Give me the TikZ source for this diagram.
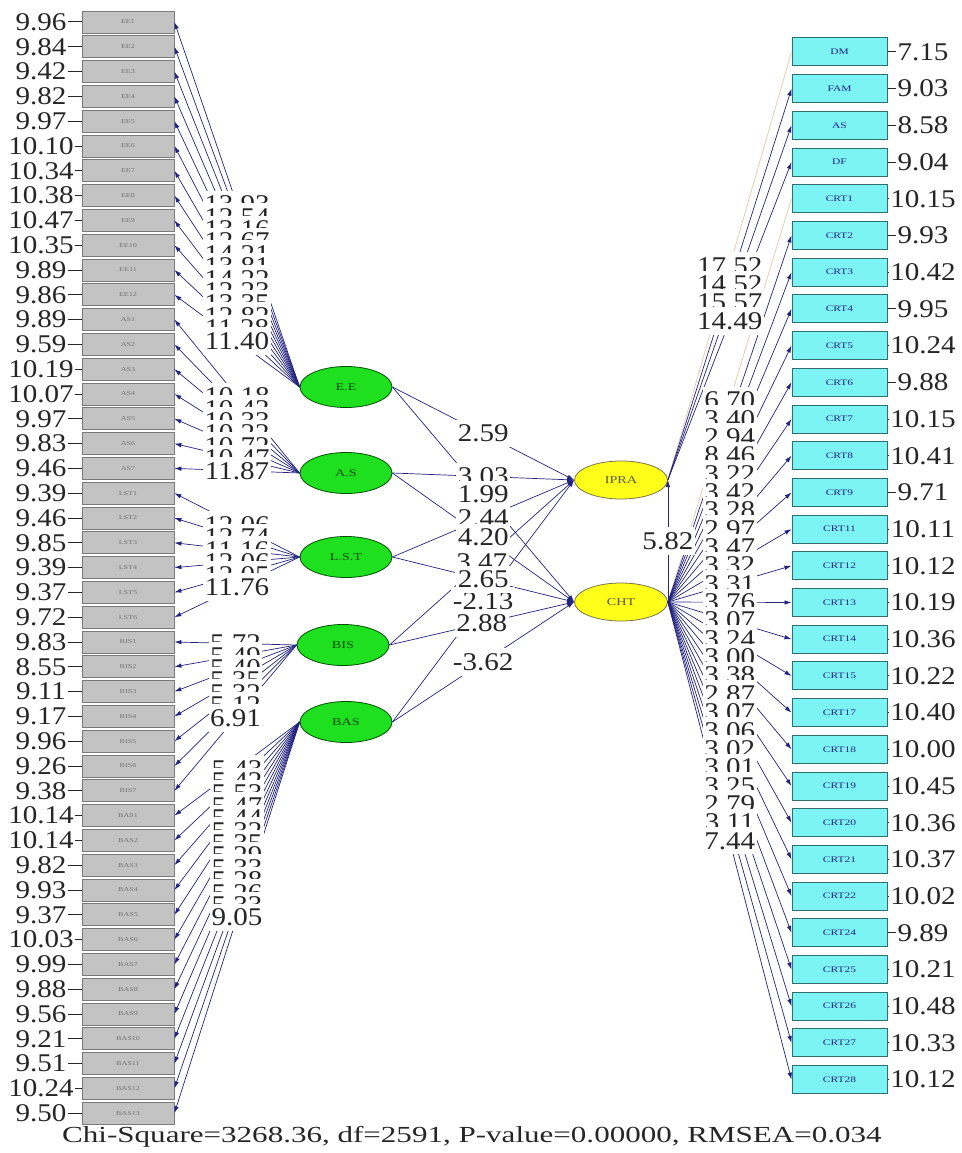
\documentclass[tikz,border=0pt]{standalone}
\usepackage{fontspec}
\setmainfont{Liberation Serif}
\newfontfamily\numfont[FakeStretch=1.14]{Liberation Serif}
\newfontfamily\chifont[FakeStretch=1.35]{Liberation Serif}
\usetikzlibrary{arrows.meta,shapes.geometric}
\definecolor{navy}{HTML}{23237F}
\definecolor{boxgray}{HTML}{C3C3C3}
\definecolor{boxedge}{HTML}{7A7A7A}
\definecolor{cyanbox}{HTML}{7DF4F4}
\definecolor{cyanedge}{HTML}{2E6E6E}
\definecolor{latgreen}{HTML}{1FE01F}
\definecolor{latyellow}{HTML}{FFFF1A}
\definecolor{paleline}{HTML}{E2C9A6}
\definecolor{txt}{HTML}{262626}
\tikzset{
  lbox/.style={rectangle, fill=boxgray, draw=boxedge, line width=0.8pt, minimum width=92pt, minimum height=22pt, inner sep=0pt, font=\chifont\fontsize{6}{6}\selectfont, text=black!55},
  rbox/.style={rectangle, fill=cyanbox, draw=cyanedge, line width=1pt, minimum width=95pt, minimum height=28pt, inner sep=0pt, font=\chifont\fontsize{8.5}{8.5}\selectfont, text=navy},
  exo/.style={ellipse, fill=latgreen, draw=black!70!green, line width=0.8pt, minimum width=92pt, minimum height=41pt, inner sep=0pt, font=\chifont\fontsize{10.5}{10.5}\selectfont, text=black!70!green},
  endo/.style={ellipse, fill=latyellow, draw=black!60!yellow, line width=0.8pt, minimum width=93pt, minimum height=38pt, inner sep=0pt, font=\chifont\fontsize{10.5}{10.5}\selectfont, text=black!75!yellow},
  valnum/.style={font=\numfont\fontsize{25.5}{25.5}\selectfont, text=txt, inner xsep=1.5pt, inner ysep=1pt},
  tval/.style={font=\numfont\fontsize{25.5}{25.5}\selectfont, text=txt, fill=white, inner xsep=1.5pt, inner ysep=5pt},
  loadline/.style={draw=navy, line width=0.7pt, -{Latex[length=7pt,width=4.5pt]}},
  fixline/.style={draw=paleline, line width=0.7pt},
  errtick/.style={draw=txt, line width=1pt},
}
\begin{document}
\begin{tikzpicture}[x=1pt,y=-1pt]
\useasboundingbox (0,0) rectangle (961,1153);
\fill[white] (0,0) rectangle (961,1153);

% ---------- left indicator boxes ----------
\foreach \lab [count=\i] in {EE1,EE2,EE3,EE4,EE5,EE6,EE7,EE8,EE9,EE10,EE11,EE12,
  AS1,AS2,AS3,AS4,AS5,AS6,AS7,LST1,LST2,LST3,LST4,LST5,LST6,
  BIS1,BIS2,BIS3,BIS4,BIS5,BIS6,BIS7,
  BAS1,BAS2,BAS3,BAS4,BAS5,BAS6,BAS7,BAS8,BAS9,BAS10,BAS11,BAS12,BAS13} {
  \pgfmathsetmacro\yy{22+(\i-1)*24.8}
  \node[lbox] (L\i) at (128,\yy) {\lab};
}
% ---------- right indicator boxes ----------
\foreach \lab [count=\i] in {DM,FAM,AS,DF,CRT1,CRT2,CRT3,CRT4,CRT5,CRT6,CRT7,CRT8,CRT9,
  CRT11,CRT12,CRT13,CRT14,CRT15,CRT17,CRT18,CRT19,CRT20,CRT21,CRT22,CRT24,CRT25,CRT26,CRT27,CRT28} {
  \pgfmathsetmacro\yy{52+(\i-1)*36.7}
  \node[rbox] (R\i) at (839.5,\yy) {\lab};
}

% ---------- latent variables ----------
\node[exo] (EE) at (346,387) {E.E};
\node[exo] (AS) at (346,473) {A.S};
\node[exo] (LST) at (346,557) {L.S.T};
\node[exo] (BIS) at (343,645) {BIS};
\node[exo] (BAS) at (346,722) {BAS};
\node[endo] (IPRA) at (621,480) {IPRA};
\node[endo] (CHT) at (621,602) {CHT};

% ---------- error values, left ----------
\foreach \v [count=\i] in {9.96,9.84,9.42,9.82,9.97,10.10,10.34,10.38,10.47,10.35,9.89,9.86,9.89,9.59,10.19,
  10.07,9.97,9.83,9.46,9.39,9.46,9.85,9.39,9.37,9.72,9.83,8.55,9.11,9.17,9.96,9.26,9.38,10.14,10.14,
  9.82,9.93,9.37,10.03,9.99,9.88,9.56,9.21,9.51,10.24,9.50} {
  \pgfmathsetmacro\yy{22+(\i-1)*24.8}
  \node[valnum] (vL\i) at (41,\yy) {\v};
  \draw[errtick] (vL\i.east) -- (L\i.west);
}
% ---------- error values, right ----------
\foreach \v [count=\i] in {7.15,9.03,8.58,9.04,10.15,9.93,10.42,9.95,10.24,9.88,10.15,10.41,9.71,10.11,
  10.12,10.19,10.36,10.22,10.40,10.00,10.45,10.36,10.37,10.02,9.89,10.21,10.48,10.33,10.12} {
  \pgfmathsetmacro\yy{52+(\i-1)*36.7}
  \node[valnum] (vR\i) at (923,\yy) {\v};
  \draw[errtick] (R\i.east) -- (vR\i.west);
}

% ---------- measurement paths, left ----------
\foreach \i in {1,...,12} {\draw[loadline] (EE.west) -- coordinate[midway] (mL\i) (L\i.east);}
\foreach \i in {13,...,19} {\draw[loadline] (AS.west) -- coordinate[midway] (mL\i) (L\i.east);}
\foreach \i in {20,...,25} {\draw[loadline] (LST.west) -- coordinate[midway] (mL\i) (L\i.east);}
\foreach \i in {26,...,32} {\draw[loadline] (BIS.west) -- coordinate[midway] (mL\i) (L\i.east);}
\foreach \i in {33,...,45} {\draw[loadline] (BAS.west) -- coordinate[midway] (mL\i) (L\i.east);}

% ---------- measurement paths, right ----------
\draw[fixline] (IPRA.east) -- coordinate[midway] (mR1) (R1.west);
\foreach \i in {2,3,4} {\draw[loadline] (IPRA.east) -- coordinate[midway] (mR\i) (R\i.west);}
\draw[fixline] (CHT.east) -- coordinate[midway] (mR5) (R5.west);
\foreach \i in {6,...,29} {\draw[loadline] (CHT.east) -- coordinate[midway] (mR\i) (R\i.west);}

% ---------- structural paths ----------
\draw[loadline] (EE.east) -- coordinate[midway] (sI1) (IPRA.west);
\draw[loadline] (AS.east) -- coordinate[midway] (sI2) (IPRA.west);
\draw[loadline] (LST.east) -- coordinate[midway] (sI3) (IPRA.west);
\draw[loadline] (BIS.east) -- coordinate[midway] (sI4) (IPRA.west);
\draw[loadline] (BAS.east) -- coordinate[midway] (sI5) (IPRA.west);
\draw[loadline] (EE.east) -- coordinate[midway] (sC1) (CHT.west);
\draw[loadline] (AS.east) -- coordinate[midway] (sC2) (CHT.west);
\draw[loadline] (LST.east) -- coordinate[midway] (sC3) (CHT.west);
\draw[loadline] (BIS.east) -- coordinate[midway] (sC4) (CHT.west);
\draw[loadline] (BAS.east) -- coordinate[midway] (sC5) (CHT.west);
\draw[loadline] (CHT.east) -- coordinate[midway] (sB) (IPRA.east);

% ---------- t-values, left ----------
\foreach \t [count=\i] in {13.93,12.54,13.16,12.67,14.21,13.81,14.22,12.23,13.35,12.82,11.28,11.40,
  10.18,10.43,10.33,10.22,10.72,10.47,11.87,
  12.06,12.74,11.16,12.06,12.05,11.76,
  5.72,5.49,5.40,5.35,5.32,5.12,6.91,
  5.43,5.42,5.53,5.47,5.44,5.32,5.35,5.29,5.33,5.28,5.26,5.33,9.05} {
  \node[tval] (tL\i) at (mL\i) {\t};
}
% ---------- t-values, right ----------
\foreach \t [count=\i] in {17.52,14.52,15.57,14.49,
  6.70,3.40,2.94,8.46,3.22,3.42,3.28,2.97,3.47,3.32,3.31,3.76,3.07,3.24,3.00,3.38,2.87,3.07,3.06,3.02,3.01,3.25,2.79,3.11,7.44} {
  \node[tval] (tR\i) at (mR\i) {\t};
}
% ---------- t-values, structural ----------
\foreach \t [count=\i] in {2.59,3.03,2.44,3.47,-2.13} {\node[tval] (tI\i) at (sI\i) {\t};}
\foreach \t [count=\i] in {1.99,4.20,2.65,2.88,-3.62} {\node[tval] (tC\i) at (sC\i) {\t};}
\node[tval] (tB) at (sB) {5.82};

% ---------- fit statistics ----------
\node[font=\chifont\fontsize{23}{23}\selectfont, text=txt] (fit) at (472,1137)
  {Chi-Square=3268.36, df=2591, P-value=0.00000, RMSEA=0.034};
\end{tikzpicture}
\end{document}
